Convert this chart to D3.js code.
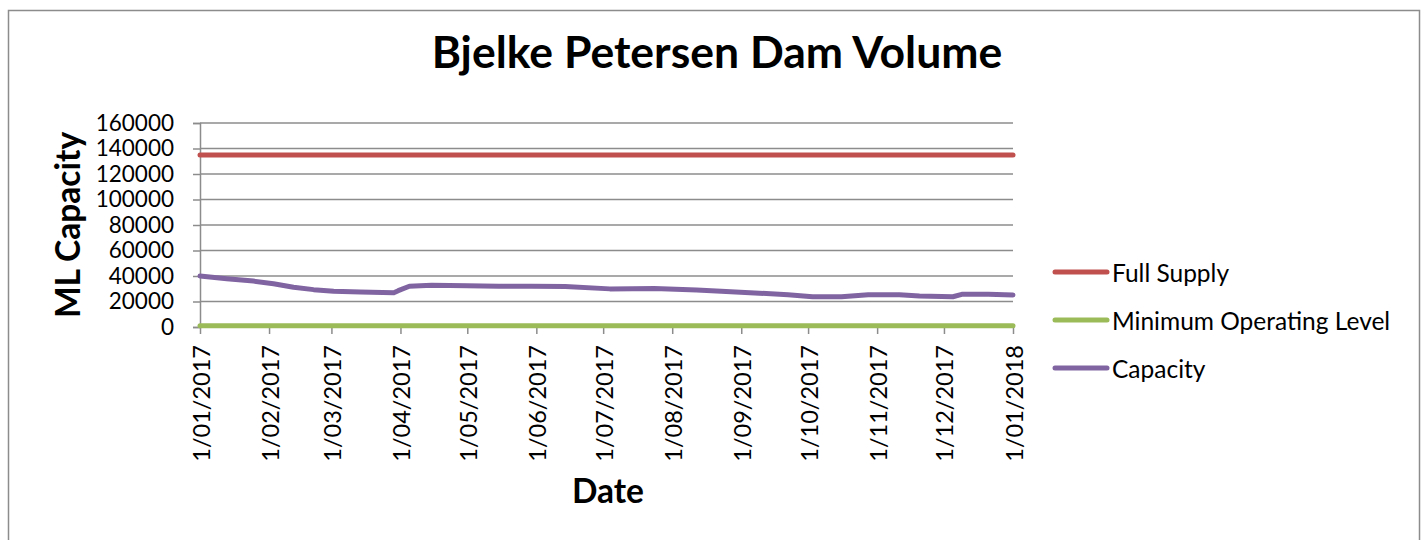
<!DOCTYPE html>
<html>
<head>
<meta charset="utf-8">
<script src="https://cdn.jsdelivr.net/npm/d3@7"></script>
<style>
  html, body { margin: 0; padding: 0; background: #fff; }
  svg { display: block; font-family: Lato, "Open Sans", sans-serif; }
</style>
</head>
<body>
<svg id="chart" width="1423" height="540"></svg>
<script>
// capacity readings (ML)
const capacityDates = ['2017-01-01', '2017-01-13', '2017-01-25', '2017-02-03', '2017-02-12', '2017-02-21',
  '2017-03-02', '2017-03-14', '2017-03-29', '2017-03-31', '2017-04-05', '2017-04-15', '2017-05-01',
  '2017-05-15', '2017-05-30', '2017-06-14', '2017-07-04', '2017-07-24', '2017-08-12', '2017-08-23',
  '2017-09-07', '2017-09-22', '2017-10-03', '2017-10-16', '2017-10-28', '2017-11-11', '2017-11-20',
  '2017-12-05', '2017-12-09', '2017-12-21', '2018-01-01']
const capacityValues = [40000, 37900, 36000, 33900, 31200, 29300,
  28000, 27500, 26900, 28500, 32000, 32800, 32300,
  32000, 32000, 31700, 29900, 30100, 29100, 28000,
  26700, 25300, 23700, 23700, 25300, 25300, 24300,
  23700, 25600, 25600, 25100]

const levelDates = ['2017-01-01', '2018-01-01']
const fullSupplyValues = [134900, 134900]
const minOperatingValues = [1000, 1000]

const yTicks = [0, 20000, 40000, 60000, 80000, 100000, 120000, 140000, 160000]

const seriesNames = ['Full Supply', 'Minimum Operating Level', 'Capacity']
const seriesColors = ['#C0504D', '#9BBB59', '#8064A2']

const parse = d3.timeParse('%Y-%m-%d')
const toPoints = (dates, values) => dates.map((d, i) => ({ date: parse(d), value: values[i] }))

const series = [
  toPoints(levelDates, fullSupplyValues),
  toPoints(levelDates, minOperatingValues),
  toPoints(capacityDates, capacityValues)
]

const svg = d3.select('#chart')
const gridColor = '#8c8c8c'

// outer chart frame
svg.append('rect')
  .attr('x', 8.5).attr('y', 10.5)
  .attr('width', 1411).attr('height', 560)
  .attr('fill', '#fff')
  .attr('stroke', '#8c8c8c')
  .attr('stroke-width', 1.5)

const x = d3.scaleTime()
  .domain([parse('2017-01-01'), parse('2018-01-01')])
  .range([200, 1013])

const y = d3.scaleLinear()
  .domain([0, 160000])
  .range([327, 123])

// horizontal gridlines
svg.append('g')
  .selectAll('line')
  .data(yTicks)
  .join('line')
  .attr('x1', x.range()[0]).attr('x2', x.range()[1])
  .attr('y1', d => y(d)).attr('y2', d => y(d))
  .attr('stroke', gridColor)
  .attr('stroke-width', 1.5)

// y axis
const yAxis = svg.append('g')
  .attr('transform', `translate(${x.range()[0]},0)`)
  .call(d3.axisLeft(y).tickValues(yTicks).tickFormat(d3.format('d')).tickSizeOuter(0).tickSize(7).tickPadding(19))
yAxis.select('.domain').attr('stroke', gridColor).attr('stroke-width', 1.5)
yAxis.selectAll('.tick line').attr('stroke', gridColor).attr('stroke-width', 1.5)
yAxis.selectAll('.tick text')
  .attr('font-size', 22.5)
  .attr('font-family', 'Lato, sans-serif')
  .attr('fill', '#000')

// x axis
const months = d3.timeMonth.range(parse('2017-01-01'), parse('2018-01-02'))
const xAxis = svg.append('g')
  .attr('transform', `translate(0,${y(0)})`)
  .call(d3.axisBottom(x).tickValues(months).tickFormat(d3.timeFormat('%-d/%m/%Y')).tickSizeOuter(0).tickSize(7))
xAxis.select('.domain').remove()
xAxis.selectAll('.tick line').attr('stroke', gridColor).attr('stroke-width', 1.5)
xAxis.selectAll('.tick text')
  .attr('font-size', 23.5)
  .attr('font-family', 'Lato, sans-serif')
  .attr('fill', '#000')
  .attr('text-anchor', 'end')
  .attr('dominant-baseline', 'central')
  .attr('dy', null)
  .attr('transform', 'translate(0,18) rotate(-90)')
  .attr('x', 0).attr('y', 0)

// series lines
const line = d3.line()
  .x(d => x(d.date))
  .y(d => y(d.value))

svg.append('g')
  .selectAll('path')
  .data(series)
  .join('path')
  .attr('d', line)
  .attr('fill', 'none')
  .attr('stroke', (d, i) => seriesColors[i])
  .attr('stroke-width', 5)
  .attr('stroke-linecap', 'round')
  .attr('stroke-linejoin', 'round')

// titles
svg.append('text')
  .attr('x', 717).attr('y', 68)
  .attr('text-anchor', 'middle')
  .attr('font-size', 44.5)
  .attr('font-weight', 'bold')
  .text('Bjelke Petersen Dam Volume')

svg.append('text')
  .attr('transform', `translate(80,${(123 + 327) / 2}) rotate(-90)`)
  .attr('text-anchor', 'middle')
  .attr('font-size', 33.5)
  .attr('font-weight', 'bold')
  .text('ML Capacity')

svg.append('text')
  .attr('x', 608).attr('y', 503)
  .attr('text-anchor', 'middle')
  .attr('font-size', 33.5)
  .attr('font-weight', 'bold')
  .text('Date')

// legend
const legend = svg.append('g')
  .selectAll('g')
  .data(seriesNames)
  .join('g')
  .attr('transform', (d, i) => `translate(1053,${272 + i * 48})`)

legend.append('line')
  .attr('x1', 2).attr('x2', 54)
  .attr('stroke', (d, i) => seriesColors[i])
  .attr('stroke-width', 5)
  .attr('stroke-linecap', 'round')

legend.append('text')
  .attr('x', 59)
  .attr('dominant-baseline', 'central')
  .attr('font-size', 24.5)
  .text(d => d)
</script>
</body>
</html>
